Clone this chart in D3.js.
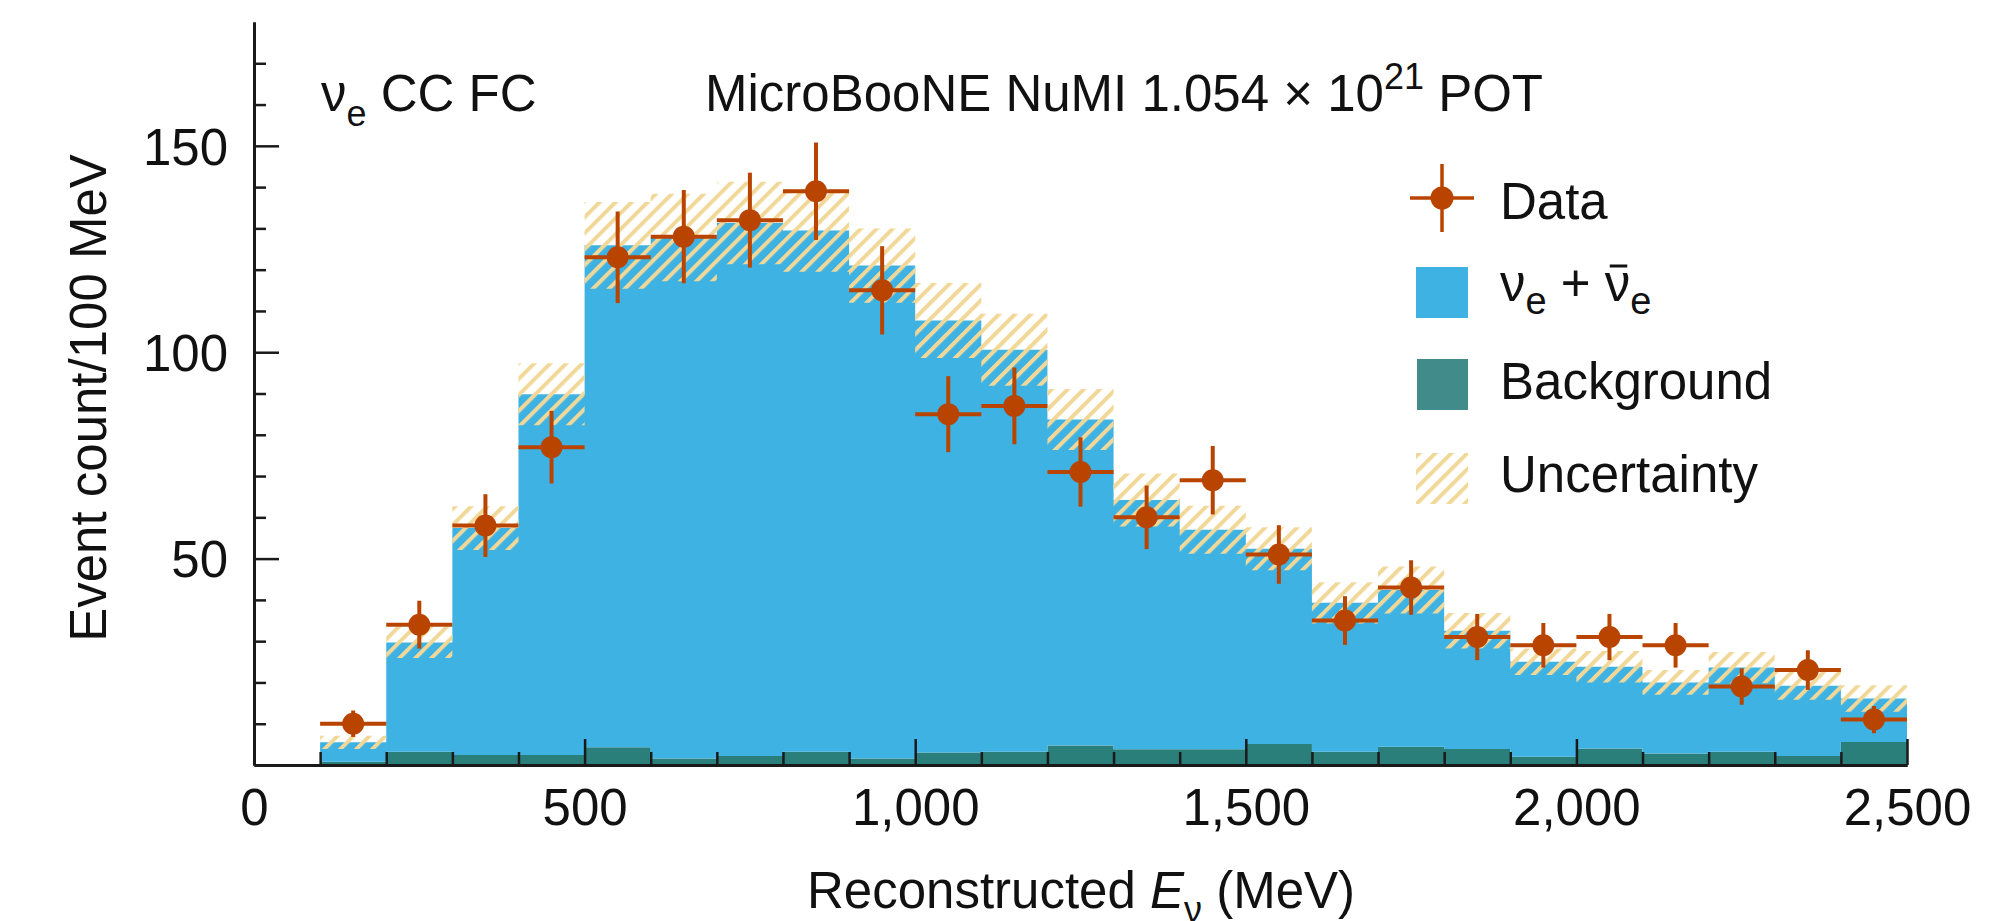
<!DOCTYPE html>
<html>
<head>
<meta charset="utf-8">
<script src="https://cdn.jsdelivr.net/npm/d3@7"></script>
<style>
  body { margin: 0; background: #ffffff; }
  svg { display: block; }
  text { font-family: "Liberation Sans", Arial, Helvetica, sans-serif; fill: #111111; }
</style>
</head>
<body>
<svg id="chart" width="1993" height="921"></svg>
<script>
// Reconstructed neutrino energy bins (lower edges, MeV), each 100 MeV wide
const binLow = [100, 200, 300, 400, 500, 600, 700, 800, 900, 1000, 1100, 1200,
                1300, 1400, 1500, 1600, 1700, 1800, 1900, 2000, 2100, 2200, 2300, 2400];
const binWidth = 100;

// Predicted nu_e + anti-nu_e CC events per bin
const signal = [4.7, 26.5, 55.0, 87.4, 121.6, 126.2, 129.1, 126.3, 119.4, 104.7, 97.4, 79.0,
                60.4, 53.2, 47.3, 36.1, 38.0, 28.6, 23.0, 19.8, 17.2, 20.4, 17.0, 10.5];
// Predicted background events per bin
const background = [0.8, 3.2, 2.4, 2.4, 4.3, 1.6, 2.2, 3.2, 1.6, 3.0, 3.2, 4.7,
                    3.8, 3.8, 5.1, 3.2, 4.4, 3.9, 2.0, 4.0, 2.8, 3.2, 2.2, 5.6];
// Total prediction uncertainty (+/-) per bin
const uncertainty = [1.6, 3.8, 5.3, 7.5, 10.5, 10.6, 10.0, 10.0, 9.0, 9.1, 8.7, 7.4,
                     6.4, 5.8, 5.2, 5.0, 5.7, 4.3, 3.2, 3.8, 3.0, 3.8, 3.4, 3.2];
// Observed data counts and their statistical errors
const dataCounts = [10, 34, 58, 77, 123, 128, 132, 139, 115, 85, 87, 71,
                    60, 69, 51, 35, 43, 31, 29, 31, 29, 19, 23, 11];
const dataErrors = [3.2, 5.8, 7.6, 8.8, 11.1, 11.3, 11.5, 11.8, 10.7, 9.2, 9.3, 8.4,
                    7.7, 8.3, 7.1, 5.9, 6.6, 5.6, 5.4, 5.6, 5.4, 4.4, 4.8, 3.3];

const xTicks = [0, 500, 1000, 1500, 2000, 2500];
const yTicks = [50, 100, 150];

const colors = {
  data: "#b94400",
  signal: "#3eb2e3",
  background: "#2b7f7b",
  backgroundKey: "#418c8a",
  hatch: "#f2d898",
  axis: "#1a1a1a"
};

const svg = d3.select("#chart");
const x = d3.scaleLinear().domain([0, 2500]).range([254, 1907]);
const y = d3.scaleLinear().domain([0, 180]).range([765, 22]);

// hatch pattern for the uncertainty band
const defs = svg.append("defs");
const pat = defs.append("pattern")
  .attr("id", "hatch")
  .attr("patternUnits", "userSpaceOnUse")
  .attr("width", 11.3).attr("height", 11.3)
  .attr("patternTransform", "rotate(45)");
pat.append("rect").attr("x", 0).attr("y", 0).attr("width", 4).attr("height", 11.3)
  .attr("fill", colors.hatch);

const bins = binLow.map((lo, i) => ({
  lo, hi: lo + binWidth,
  bg: background[i],
  total: background[i] + signal[i],
  unc: uncertainty[i],
  n: dataCounts[i],
  err: dataErrors[i]
}));

// step-shaped points: two per bin
const stepPts = bins.flatMap(b => [{ x: b.lo, b }, { x: b.hi, b }]);

const area = (lowFn, highFn) => d3.area()
  .x(p => x(p.x))
  .y0(p => y(lowFn(p.b)))
  .y1(p => y(highFn(p.b)));

const plot = svg.append("g");

plot.append("path")
  .datum(stepPts)
  .attr("d", area(b => 0, b => b.bg))
  .attr("fill", colors.background);

plot.append("path")
  .datum(stepPts)
  .attr("d", area(b => b.bg, b => b.total))
  .attr("fill", colors.signal);

plot.append("path")
  .datum(stepPts)
  .attr("d", area(b => b.total - b.unc, b => b.total + b.unc))
  .attr("fill", "url(#hatch)");

// axes
const styleAxis = (g, tickWidth) => {
  g.selectAll(".domain").attr("stroke", colors.axis).attr("stroke-width", 3);
  g.selectAll(".tick line").attr("stroke", colors.axis).attr("stroke-width", tickWidth);
  g.selectAll(".tick text").attr("font-size", 51).attr("fill", "#111")
    .attr("font-family", "'Liberation Sans', Arial, sans-serif");
};

const xMinor = d3.range(100, 2500, 100).filter(v => v % 500 !== 0);
svg.append("g").attr("transform", `translate(0,${y(0)})`)
  .call(d3.axisBottom(x).tickValues(xMinor).tickSize(-13).tickSizeOuter(0).tickFormat(""))
  .call(g => styleAxis(g, 2.5));

svg.append("g").attr("transform", `translate(0,${y(0)})`)
  .call(d3.axisBottom(x).tickValues(xTicks).tickSize(-26).tickSizeOuter(0)
    .tickPadding(24).tickFormat(d3.format(",")))
  .call(g => styleAxis(g, 2.5));

const yMinor = d3.range(10, 180, 10).filter(v => v % 50 !== 0);
svg.append("g").attr("transform", `translate(${x(0)},0)`)
  .call(d3.axisLeft(y).tickValues(yMinor).tickSize(-12).tickSizeOuter(0).tickFormat(""))
  .call(g => styleAxis(g, 2.5));

svg.append("g").attr("transform", `translate(${x(0)},0)`)
  .call(d3.axisLeft(y).tickValues(yTicks).tickSize(-25).tickSizeOuter(0).tickPadding(26))
  .call(g => styleAxis(g, 2.5))
  .call(g => g.selectAll(".tick text").attr("dy", "0.36em"));

// data points with error bars
const pts = svg.append("g");
const dataG = pts.selectAll("g").data(bins).join("g");
dataG.append("line")
  .attr("x1", b => x(b.lo)).attr("x2", b => x(b.hi))
  .attr("y1", b => y(b.n)).attr("y2", b => y(b.n))
  .attr("stroke", colors.data).attr("stroke-width", 4);
dataG.append("line")
  .attr("x1", b => x(b.lo + binWidth / 2)).attr("x2", b => x(b.lo + binWidth / 2))
  .attr("y1", b => y(b.n - b.err)).attr("y2", b => y(b.n + b.err))
  .attr("stroke", colors.data).attr("stroke-width", 4);
dataG.append("circle")
  .attr("cx", b => x(b.lo + binWidth / 2)).attr("cy", b => y(b.n))
  .attr("r", 11).attr("fill", colors.data);

// axis titles
svg.append("text")
  .attr("transform", "translate(106,398) rotate(-90)")
  .attr("text-anchor", "middle").attr("font-size", 51)
  .text("Event count/100 MeV");

const xt = svg.append("text")
  .attr("x", 1081).attr("y", 908)
  .attr("text-anchor", "middle").attr("font-size", 51);
xt.append("tspan").text("Reconstructed ");
xt.append("tspan").attr("font-style", "italic").text("E");
xt.append("tspan").attr("font-size", 36).attr("dy", 14).text("ν");
xt.append("tspan").attr("dy", -14).text(" (MeV)");

// annotations
const ann1 = svg.append("text").attr("x", 321).attr("y", 111).attr("font-size", 51);
ann1.append("tspan").text("ν");
ann1.append("tspan").attr("font-size", 36).attr("dy", 15).text("e");
ann1.append("tspan").attr("dy", -15).text(" CC FC");

const ann2 = svg.append("text").attr("x", 705).attr("y", 111).attr("font-size", 51);
ann2.append("tspan").text("MicroBooNE NuMI 1.054 × 10");
ann2.append("tspan").attr("font-size", 36).attr("dy", -22).text("21");
ann2.append("tspan").attr("dy", 22).text(" POT");

// legend
const legend = svg.append("g");
const mk = legend.append("g");
mk.append("line").attr("x1", 1410).attr("x2", 1474).attr("y1", 198).attr("y2", 198)
  .attr("stroke", colors.data).attr("stroke-width", 3.5);
mk.append("line").attr("x1", 1442).attr("x2", 1442).attr("y1", 164).attr("y2", 232)
  .attr("stroke", colors.data).attr("stroke-width", 3.5);
mk.append("circle").attr("cx", 1442).attr("cy", 198).attr("r", 11.5).attr("fill", colors.data);
legend.append("text").attr("x", 1500).attr("y", 219).attr("font-size", 51).text("Data");

legend.append("rect").attr("x", 1416).attr("y", 267).attr("width", 52).attr("height", 51)
  .attr("fill", colors.signal);
const sigLabel = legend.append("text").attr("x", 1500).attr("y", 301).attr("font-size", 51);
sigLabel.append("tspan").text("ν");
sigLabel.append("tspan").attr("font-size", 38).attr("dy", 13).text("e");
sigLabel.append("tspan").attr("dy", -13).text(" + ν");
sigLabel.append("tspan").attr("font-size", 38).attr("dy", 13).text("e");
// bar over the anti-neutrino symbol
const nuIdx = 5;
const s = sigLabel.node().getStartPositionOfChar(nuIdx);
const e = sigLabel.node().getEndPositionOfChar(nuIdx);
legend.append("line")
  .attr("x1", s.x + 5).attr("x2", e.x - 3)
  .attr("y1", 266).attr("y2", 266)
  .attr("stroke", "#111").attr("stroke-width", 3);

legend.append("rect").attr("x", 1417).attr("y", 359).attr("width", 51).attr("height", 51)
  .attr("fill", colors.backgroundKey);
legend.append("text").attr("x", 1500).attr("y", 399).attr("font-size", 51).text("Background");

legend.append("rect").attr("x", 1416).attr("y", 453).attr("width", 52).attr("height", 51)
  .attr("fill", "url(#hatch)");
legend.append("text").attr("x", 1500).attr("y", 492).attr("font-size", 51).text("Uncertainty");
</script>
</body>
</html>
